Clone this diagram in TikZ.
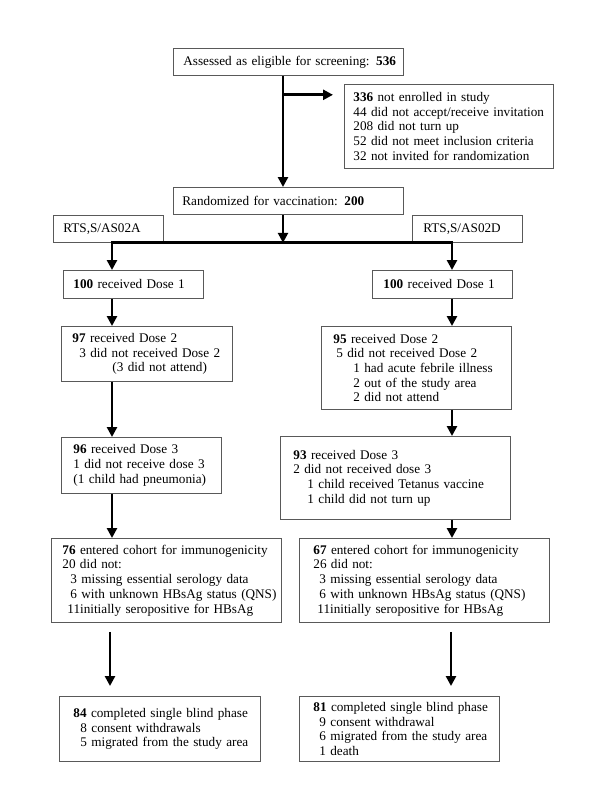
\documentclass[tikz,border=0pt]{standalone}
\usepackage{fontspec}
\setmainfont{Liberation Serif}
\usetikzlibrary{arrows.meta}

\begin{document}
\begin{tikzpicture}[x=1pt, y=-1pt,
  every node/.style = {shape=rectangle, draw=black!65, line width=0.8pt, anchor=north west,
    align=left, inner ysep=2pt, font=\fontsize{13.2}{14.7}\selectfont},
  txtpad/.style = {inner xsep=0pt, execute at begin node={\leftskip=#1pt\relax}},
  arr/.style = {line width=2.8pt, -{Triangle[length=10pt,width=10pt]}}]
  \useasboundingbox (0,0) rectangle (600,800);
  \coordinate (colM) at (283,0);
  \coordinate (colA) at (112,0);
  \coordinate (colD) at (452,0);
  % screening and randomization
  \node (scr) at (173,48) [txtpad=10, text width=230pt, minimum height=27pt]
    {Assessed as eligible for screening: \textbf{536}};
  \node (excl) at (344,84) [txtpad=9, text width=209pt, minimum height=84pt]
    {\textbf{336} not enrolled in study\\ 44 did not accept/receive invitation\\ 208 did not turn up\\
     52 did not meet inclusion criteria\\ 32 not invited for randomization};
  \node (rand) at (173,187) [txtpad=9, text width=230pt, minimum height=27pt]
    {Randomized for vaccination: \textbf{200}};
  \node (grpa) at (53,215) [txtpad=10, text width=110pt, minimum height=27pt] {RTS,S/AS02A};
  \node (grpd) at (412,215) [txtpad=11, text width=110pt, minimum height=27pt] {RTS,S/AS02D};
  % RTS,S/AS02A arm
  \node (d1a) at (63,270) [txtpad=10, text width=140pt, minimum height=28pt]
    {\textbf{100} received Dose 1};
  \node (d2a) at (61,326) [txtpad=11, text width=171pt, minimum height=55pt]
    {\textbf{97} received Dose 2\\ \hspace*{7pt}3 did not received Dose 2\\ \hspace*{40pt}(3 did not attend)};
  \node (d3a) at (61,437) [txtpad=12, text width=160pt, minimum height=56pt]
    {\textbf{96} received Dose 3\\ 1 did not receive dose 3\\ (1 child had pneumonia)};
  \node (coha) at (51,538) [txtpad=11, text width=230pt, minimum height=84pt]
    {\textbf{76} entered cohort for immunogenicity\\ 20 did not:\\ \hspace*{8pt}3 missing essential serology data\\
     \hspace*{8pt}6 with unknown HBsAg status (QNS)\\ \hspace*{5pt}11initially seropositive for HBsAg};
  \node (fina) at (59,696) [txtpad=14, text width=201pt, minimum height=65pt]
    {\textbf{84} completed single blind phase\\ \hspace*{7pt}8 consent withdrawals\\ \hspace*{7pt}5 migrated from the study area};
  % RTS,S/AS02D arm
  \node (d1d) at (372,270) [txtpad=11, text width=140pt, minimum height=28pt]
    {\textbf{100} received Dose 1};
  \node (d2d) at (321,326) [txtpad=12, text width=190pt, minimum height=83pt]
    {\textbf{95} received Dose 2\\ \hspace*{3pt}5 did not received Dose 2\\ \hspace*{20pt}1 had acute febrile illness\\
     \hspace*{20pt}2 out of the study area\\ \hspace*{20pt}2 did not attend};
  \node (d3d) at (280,436) [txtpad=13, text width=230pt, minimum height=83pt]
    {\textbf{93} received Dose 3\\ 2 did not received dose 3\\ \hspace*{14pt}1 child received Tetanus vaccine\\
     \hspace*{14pt}1 child did not turn up};
  \node (cohd) at (299,538) [txtpad=14, text width=250pt, minimum height=84pt]
    {\textbf{67} entered cohort for immunogenicity\\ 26 did not:\\ \hspace*{6pt}3 missing essential serology data\\
     \hspace*{6pt}6 with unknown HBsAg status (QNS)\\ \hspace*{4pt}11initially seropositive for HBsAg};
  \node (find) at (299,696) [txtpad=14, text width=200pt, minimum height=65pt]
    {\textbf{81} completed single blind phase\\ \hspace*{6pt}9 consent withdrawal\\ \hspace*{6pt}6 migrated from the study area\\
     \hspace*{6pt}1 death};
  % connectors
  \coordinate (brk) at ([yshift=-19pt]scr.south -| colM);
  \draw[arr] (scr.south -| colM) -- (rand.north -| colM);
  \draw[arr] (brk) -- ([xshift=-11pt]brk -| excl.west);
  \draw[arr] (rand.south -| colM) -- (grpa.south -| colM);
  \draw[line width=2.8pt, line cap=rect] (grpa.south -| colA) -- (grpd.south -| colD);
  \draw[arr] (grpa.south -| colA) -- (d1a.north -| colA);
  \draw[arr] (grpd.south -| colD) -- (d1d.north -| colD);
  \draw[arr] (d1a.south -| colA) -- (d2a.north -| colA);
  \draw[arr] (d1d.south -| colD) -- (d2d.north -| colD);
  \draw[arr] (d2a.south -| colA) -- (d3a.north -| colA);
  \draw[arr] (d2d.south -| colD) -- (d3d.north -| colD);
  \draw[arr] (d3a.south -| colA) -- (coha.north -| colA);
  \draw[arr] (d3d.south -| colD) -- (cohd.north -| colD);
  \draw[arr] ([xshift=-2pt,yshift=-9pt]coha.south -| colA) -- ([xshift=-2pt,yshift=10pt]fina.north -| colA);
  \draw[arr] ([xshift=-1pt,yshift=-9pt]cohd.south -| colD) -- ([xshift=-1pt,yshift=10pt]find.north -| colD);
\end{tikzpicture}
\end{document}
